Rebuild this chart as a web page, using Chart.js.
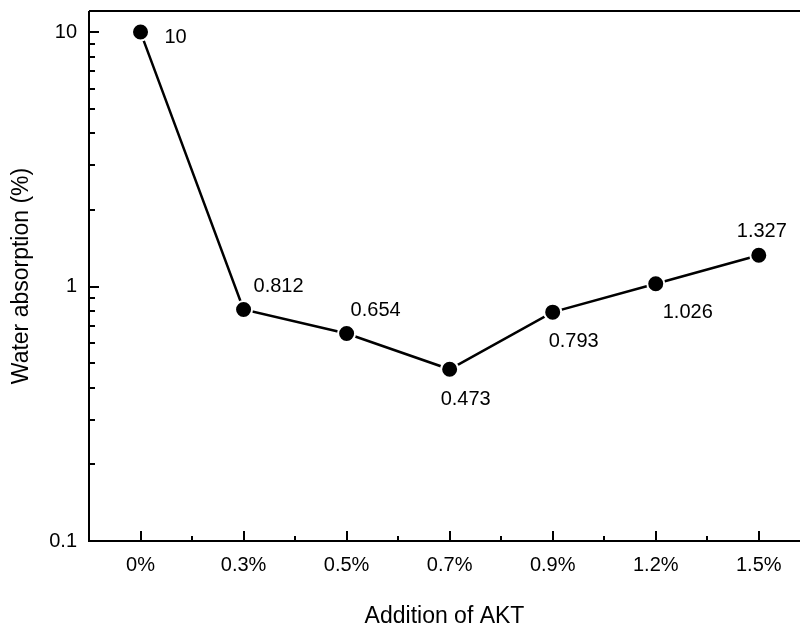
<!DOCTYPE html>
<html>
<head>
<meta charset="utf-8">
<script src="https://cdn.jsdelivr.net/npm/chart.js@4"></script>
<style>
  html, body { margin: 0; padding: 0; background: #fff; overflow: hidden; }
</style>
</head>
<body>
<canvas id="canvas" width="800" height="630"></canvas>
<script>
const categories = ['0%', '0.3%', '0.5%', '0.7%', '0.9%', '1.2%', '1.5%'];
const absorption = [10, 0.812, 0.654, 0.473, 0.793, 1.026, 1.327];
const yTickLabels = [0.1, 1, 10];

// where each value label sits relative to its point (dx, dy)
const labelOffsets = [[35, 5], [35, -23], [29, -23], [16, 30], [21, 29], [32, 29], [3, -24]];

const FONT = '"Liberation Sans", Arial, sans-serif';

const isPow10 = v => Math.abs(Math.log10(v) - Math.round(Math.log10(v))) < 1e-6;

const axesPlugin = {
    id: 'axesPlugin',
    afterDraw(chart) {
        const ctx = chart.ctx;
        const area = chart.chartArea;
        const xs = chart.scales.x;
        const ys = chart.scales.y;
        ctx.save();
        ctx.strokeStyle = '#000';
        ctx.lineWidth = 2;
        ctx.beginPath();
        ctx.moveTo(area.left, area.top);
        ctx.lineTo(area.right, area.top);
        ctx.moveTo(area.left, area.top);
        ctx.lineTo(area.left, area.bottom);
        ctx.lineTo(area.right, area.bottom);
        ctx.stroke();

        ctx.beginPath();
        // y ticks, inward
        ys.ticks.forEach(t => {
            const sig = t.value / Math.pow(10, Math.floor(Math.log10(t.value) + 1e-9));
            if (Math.abs(sig - Math.round(sig)) > 1e-6) return;
            const y = Math.round(ys.getPixelForValue(t.value));
            const len = isPow10(t.value) ? 10 : 6;
            ctx.moveTo(area.left, y);
            ctx.lineTo(area.left + len, y);
        });
        // x ticks, inward, with minor ones between categories
        categories.forEach((c, i) => {
            const x = Math.round(xs.getPixelForValue(i));
            ctx.moveTo(x, area.bottom);
            ctx.lineTo(x, area.bottom - 10);
            if (i < categories.length - 1) {
                const xm = Math.round(xs.getPixelForValue(i + 0.5));
                ctx.moveTo(xm, area.bottom);
                ctx.lineTo(xm, area.bottom - 5);
            }
        });
        ctx.stroke();

        // value labels
        const meta = chart.getDatasetMeta(0);
        ctx.fillStyle = '#000';
        ctx.font = '20px ' + FONT;
        ctx.textAlign = 'center';
        ctx.textBaseline = 'middle';
        meta.data.forEach((pt, i) => {
            const [dx, dy] = labelOffsets[i];
            ctx.fillText(String(absorption[i]), pt.x + dx, pt.y + dy);
        });
        ctx.restore();
    }
};

const ctx = document.getElementById('canvas').getContext('2d');
const myChart = new Chart(ctx, {
    type: 'line',
    data: {
        datasets: [{
            label: 'Water absorption',
            data: absorption.map((v, i) => ({ x: i, y: v })),
            borderColor: '#000',
            borderWidth: 2.5,
            backgroundColor: '#000',
            pointRadius: 8.5,
            pointBorderColor: '#fff',
            pointBorderWidth: 2,
            pointBackgroundColor: '#000',
            tension: 0
        }]
    },
    options: {
        responsive: false,
        animation: false,
        devicePixelRatio: 1,
        layout: { autoPadding: false, padding: { top: 11, right: 0, left: 0, bottom: 0 } },
        plugins: {
            legend: { display: false },
            tooltip: { enabled: false }
        },
        scales: {
            x: {
                type: 'linear',
                min: -0.5,
                max: 6.4,
                afterBuildTicks: s => { s.ticks = categories.map((c, i) => ({ value: i })); },
                afterFit: s => { s.height = 89; s.paddingLeft = 0; s.paddingRight = 0; },
                grid: { display: false, drawTicks: false },
                border: { display: false },
                ticks: {
                    padding: 12,
                    color: '#000',
                    font: { family: FONT, size: 20 },
                    maxRotation: 0,
                    autoSkip: false,
                    callback: v => categories[v]
                },
                title: {
                    display: true,
                    text: 'Addition of AKT',
                    color: '#000',
                    font: { family: FONT, size: 23 },
                    padding: 0
                }
            },
            y: {
                type: 'logarithmic',
                min: 0.1,
                max: 12.1,
                afterFit: s => { s.width = 89; s.paddingTop = 0; s.paddingBottom = 0; },
                grid: { display: false, drawTicks: false },
                border: { display: false },
                ticks: {
                    padding: 12,
                    color: '#000',
                    font: { family: FONT, size: 20 },
                    autoSkip: false,
                    callback: v => yTickLabels.some(t => Math.abs(t - v) < 1e-9) ? String(v) : ''
                },
                title: {
                    display: true,
                    text: 'Water absorption (%)',
                    color: '#000',
                    font: { family: FONT, size: 23 },
                    padding: { top: 8, bottom: 0 }
                }
            }
        }
    },
    plugins: [axesPlugin]
});
</script>
</body>
</html>
